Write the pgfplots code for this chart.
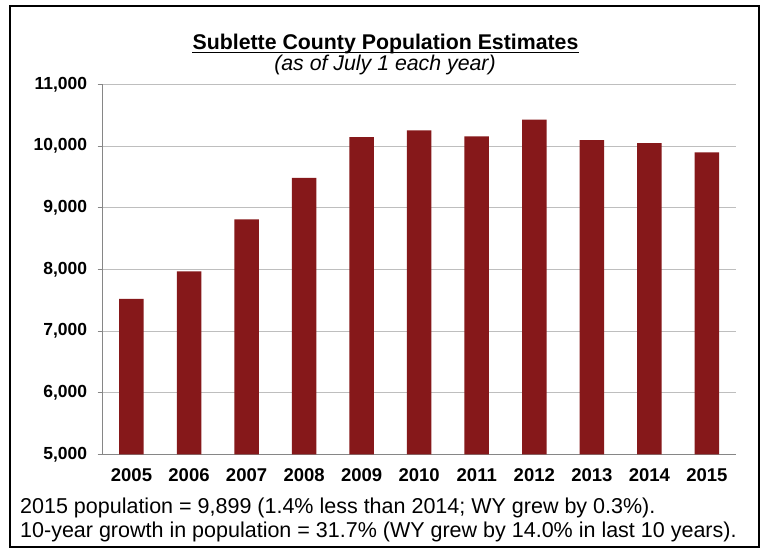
\documentclass[border=0pt]{standalone}
\usepackage{fontspec}
\setmainfont{Liberation Sans}
\usepackage{pgfplots}
\pgfplotsset{compat=1.18}
\definecolor{barred}{RGB}{134,24,26}
\definecolor{axgray}{RGB}{134,134,134}
\definecolor{gridgray}{RGB}{190,190,190}
\begin{document}
\begin{tikzpicture}[x=1pt,y=1pt]
\useasboundingbox (0,0) rectangle (764,549);
\fill[white] (0,0) rectangle (764,549);
\draw[line width=2.2pt,black] (10,2) rectangle (759,543);
\begin{axis}[
  at={(102.7pt,94.5pt)}, anchor=south west,
  scale only axis, width=633pt, height=370pt,
  xmin=-0.5, xmax=10.5, ymin=5000, ymax=11000,
  axis x line*=bottom, axis y line*=left,
  axis line style={axgray, line width=1.2pt, -},
  xtick={0,...,10},
  xticklabels={2005,2006,2007,2008,2009,2010,2011,2012,2013,2014,2015},
  major x tick style={draw=none},
  extra x ticks={-0.5,0.5,1.5,2.5,3.5,4.5,5.5,6.5,7.5,8.5,9.5,10.5},
  extra x tick labels={},
  extra x tick style={tick style={axgray, line width=1pt}, major tick length=5pt, tick align=outside, grid=none},
  ytick={5000,6000,7000,8000,9000,10000,11000},
  ytick style={axgray, line width=1pt}, major tick length=5pt, tick align=outside,
  ymajorgrids, grid style={gridgray, line width=1pt},
  /pgf/number format/assume math mode=true,
  /pgf/number format/1000 sep={,},
  scaled y ticks=false,
  yticklabel style={font=\bfseries\fontsize{17.5}{20}\selectfont, xshift=-7pt},
  xticklabel style={font=\bfseries\fontsize{18.5}{21}\selectfont, yshift=-6pt},
  ybar, bar width=24.5pt,
  clip=false,
]
\addplot[fill=barred, draw=none] coordinates {
(0,7525) (1,7970) (2,8812) (3,9485) (4,10146) (5,10257) (6,10157) (7,10432) (8,10097) (9,10050) (10,9899)
};
\end{axis}
\node[anchor=base, inner sep=0pt, font=\bfseries\fontsize{21.3}{25}\selectfont] (T) at (385.5,499.5) {Sublette County Population Estimates};
\draw[line width=1.6pt, black] (T.west |- 0,496.5) -- (T.east |- 0,496.5);
\node[anchor=base, inner sep=0pt, font=\itshape\fontsize{21.3}{25}\selectfont] at (385,478.5) {(as of July 1 each year)};
\node[anchor=base west, inner sep=0pt, font=\fontsize{21.5}{25}\selectfont] at (20,35) {2015 population = 9,899 (1.4\% less than 2014; WY grew by 0.3\%).};
\node[anchor=base west, inner sep=0pt, font=\fontsize{21.5}{25}\selectfont] at (20,11) {10-year growth in population = 31.7\% (WY grew by 14.0\% in last 10 years).};
\end{tikzpicture}
\end{document}
